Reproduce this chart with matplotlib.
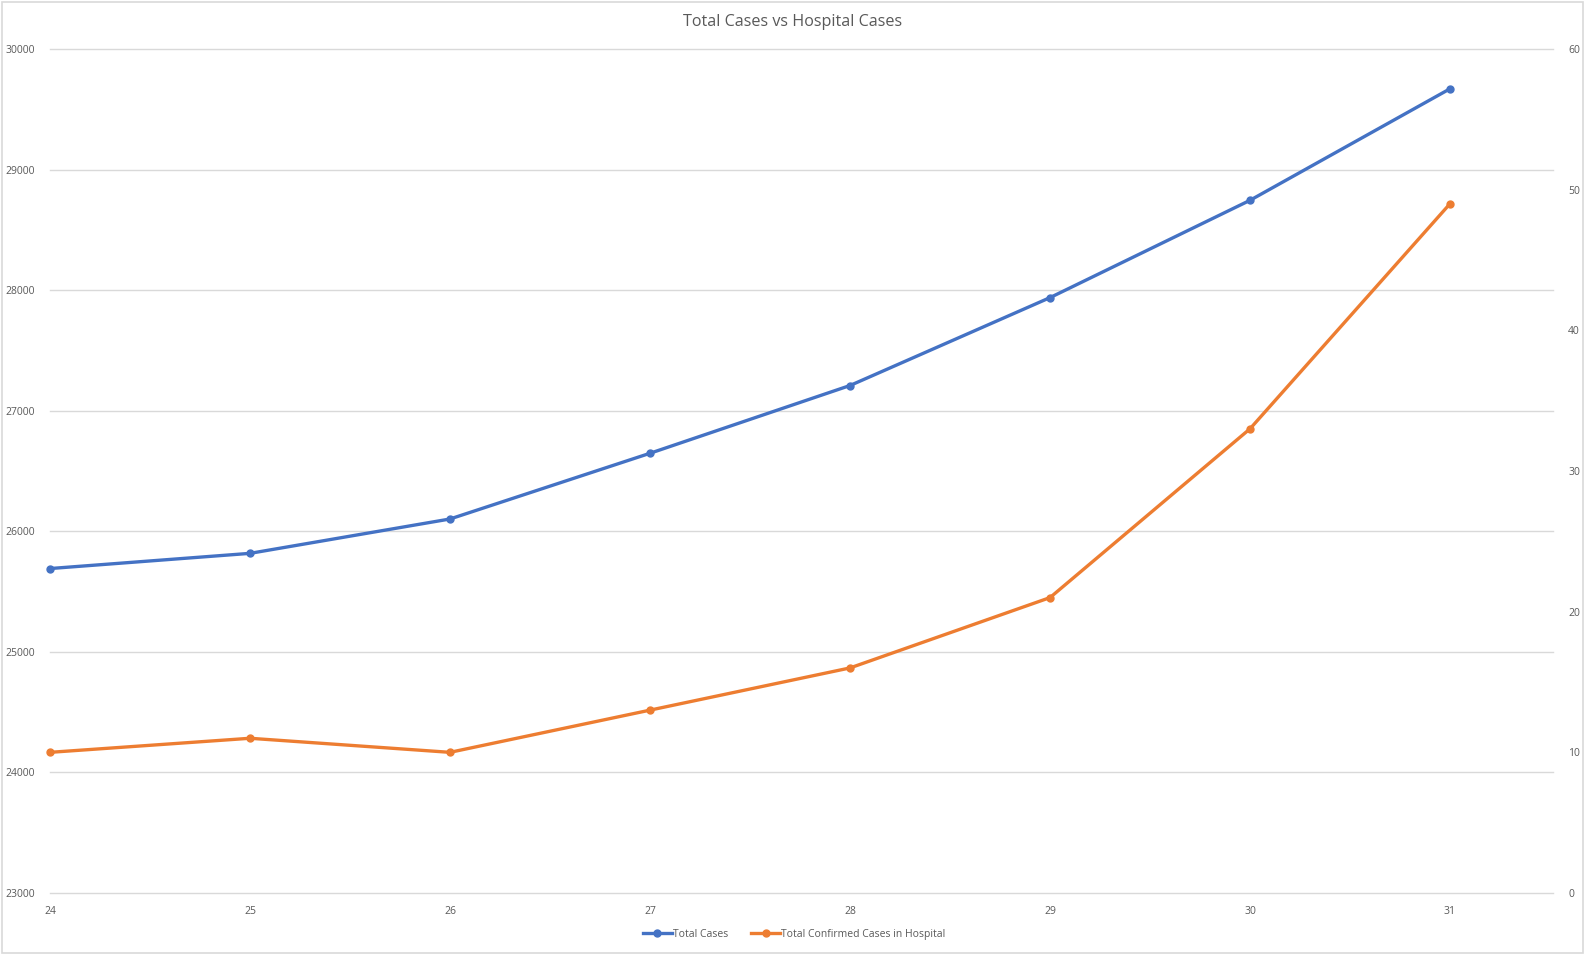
import matplotlib.pyplot as plt
from matplotlib.patches import Rectangle

# Data
days = [24, 25, 26, 27, 28, 29, 30, 31]
total_cases = [25691, 25817, 26102, 26647, 27209, 27938, 28745, 29670]
hospital_cases = [10, 11, 10, 13, 16, 21, 33, 49]

left_ticks = [23000, 24000, 25000, 26000, 27000, 28000, 29000, 30000]
right_ticks = [0, 10, 20, 30, 40, 50, 60]

blue = '#4472C4'
orange = '#ED7D31'
txt = '#595959'
grid = '#D9D9D9'

plt.rcParams['font.family'] = ['Open Sans', 'DejaVu Sans']

fig = plt.figure(figsize=(15.85, 9.55), dpi=100)
ax = fig.add_axes([50 / 1585, 62 / 955, 1503 / 1585, 844 / 955])
ax2 = ax.twinx()

# Grid lines on left axis
ax.set_ylim(23000, 30000)
ax.set_yticks(left_ticks)
ax.grid(axis='y', color=grid, lw=1)
for gl in ax.get_ygridlines():
    gl.set_clip_on(False)
ax.set_axisbelow(True)
ax.set_xlim(24, 31.515)
ax.set_xticks(days)

l1, = ax.plot(days, total_cases, '-o', color=blue, lw=2.4, ms=5, label='Total Cases',
              clip_on=False)
ax2.set_ylim(0, 60)
ax2.set_yticks(right_ticks)
l2, = ax2.plot(days, hospital_cases, '-o', color=orange, lw=2.4, ms=5,
               label='Total Confirmed Cases in Hospital', clip_on=False)

for a in (ax, ax2):
    for s in a.spines.values():
        s.set_visible(False)
    a.tick_params(length=0, labelsize=7.5, colors=txt)
ax.tick_params(axis='y', pad=11)
ax.tick_params(axis='x', pad=9)
ax2.tick_params(axis='y', pad=11)

fig.text(0.5, 1 - 22 / 955, 'Total Cases vs Hospital Cases', ha='center', va='center',
         fontsize=11.6, color=txt)

fig.legend(handles=[l1, l2], loc='center', bbox_to_anchor=(794 / 1585, 1 - 934 / 955),
           ncol=2, frameon=False, fontsize=7.5, labelcolor=txt, handlelength=2.8,
           handletextpad=0.1, columnspacing=2.2)

# Light chart border
fig.patches.append(Rectangle((0.0015, 0.002), 0.997, 0.996, transform=fig.transFigure,
                             fill=False, edgecolor='#D9D9D9', lw=1.2))

plt.savefig('out.png', dpi=100)
